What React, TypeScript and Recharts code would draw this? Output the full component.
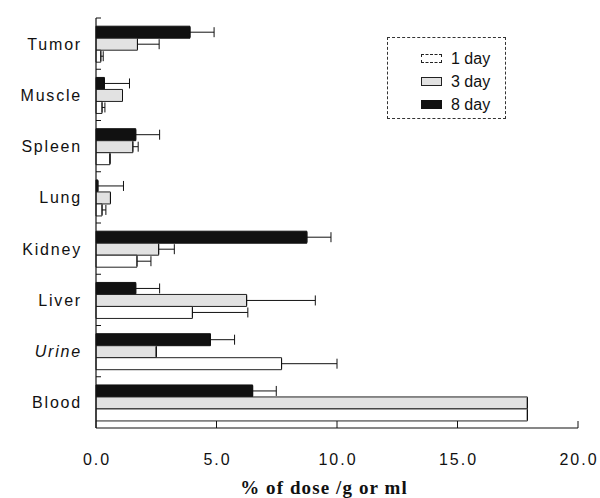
import React from 'react';
import { BarChart, Bar, XAxis, YAxis, ErrorBar } from 'recharts';

const categories = ['Tumor', 'Muscle', 'Spleen', 'Lung', 'Kidney', 'Liver', 'Urine', 'Blood'];
const day1 = [0.2, 0.25, 0.58, 0.25, 1.7, 4.0, 7.7, 17.9];
const day1Err = [0.1, 0.12, 0, 0.16, 0.58, 2.3, 2.3, 0];
const day3 = [1.72, 1.1, 1.53, 0.6, 2.6, 6.25, 2.5, 17.9];
const day3Err = [0.9, 0, 0.22, 0, 0.65, 2.85, 0, 0];
const day8 = [3.9, 0.35, 1.65, 0.08, 8.75, 1.65, 4.75, 6.5];
const day8Err = [1.0, 1.04, 0.99, 1.06, 1.0, 0.99, 1.0, 0.98];
const xTicks = [0, 5, 10, 15, 20];
const seriesNames = ['1 day', '3 day', '8 day'];

const data = categories.map((c, i) => ({
  name: c,
  d1: day1[i],
  d1e: [0, day1Err[i]],
  d3: day3[i],
  d3e: [0, day3Err[i]],
  d8: day8[i],
  d8e: [0, day8Err[i]],
}));

const FONT = '"Liberation Sans", Arial, sans-serif';
const GRAY = '#e2e2e2';

const YTick = (props: any) => {
  const { x, y, payload } = props;
  const half = payload && payload.offset ? payload.offset : 25.6;
  const italic = payload.value === 'Urine';
  return (
    <g>
      <line x1={x + 8} x2={x + 13} y1={y - half} y2={y - half} stroke="#111" strokeWidth={1} />
      <text
        x={x - 6}
        y={y}
        dy={6}
        textAnchor="end"
        fontFamily={FONT}
        fontSize={16}
        letterSpacing={1.8}
        fontStyle={italic ? 'italic' : 'normal'}
        fill="#111"
      >
        {payload.value}
      </text>
    </g>
  );
};

const XTick = (props: any) => {
  const { x, y, payload } = props;
  return (
    <g>
      <line x1={x} x2={x} y1={y - 8} y2={y - 15} stroke="#111" strokeWidth={1} />
      <text x={x + 1} y={y + 29} textAnchor="middle" fontFamily={FONT} fontSize={16} letterSpacing={2} fill="#111">
        {Number(payload.value).toFixed(1)}
      </text>
    </g>
  );
};

const Swatch = ({ kind }: { kind: number }) => {
  const style: React.CSSProperties =
    kind === 2
      ? { background: '#111', border: '1px solid #111' }
      : kind === 1
      ? { background: GRAY, border: '1px solid #222' }
      : { background: '#fff', border: '1px dashed #222' };
  return <div style={{ width: 19, height: 7, ...style }} />;
};

export default function App() {
  return (
    <div style={{ position: 'absolute', left: 0, top: 0, width: 600, height: 498, background: '#fff' }}>
      <BarChart
        width={600}
        height={498}
        data={data}
        layout="vertical"
        margin={{ top: 18, right: 22, bottom: 0, left: 0 }}
        barCategoryGap="16%"
        barGap={0}
      >
        <XAxis
          type="number"
          domain={[0, 20]}
          ticks={xTicks}
          height={70}
          axisLine={{ stroke: '#111', strokeWidth: 1.2 }}
          tickLine={false}
          tick={<XTick />}
          interval={0}
        />
        <YAxis
          type="category"
          dataKey="name"
          width={96}
          axisLine={{ stroke: '#111', strokeWidth: 1.2 }}
          tickLine={false}
          tick={<YTick />}
          interval={0}
        />
        <Bar dataKey="d8" name={seriesNames[2]} fill="#111" stroke="#111" strokeWidth={1} isAnimationActive={false}>
          <ErrorBar dataKey="d8e" direction="x" width={5} stroke="#111" strokeWidth={1} />
        </Bar>
        <Bar dataKey="d3" name={seriesNames[1]} fill={GRAY} stroke="#222" strokeWidth={1} isAnimationActive={false}>
          <ErrorBar dataKey="d3e" direction="x" width={5} stroke="#111" strokeWidth={1} />
        </Bar>
        <Bar dataKey="d1" name={seriesNames[0]} fill="#fff" stroke="#222" strokeWidth={1} isAnimationActive={false}>
          <ErrorBar dataKey="d1e" direction="x" width={5} stroke="#111" strokeWidth={1} />
        </Bar>
      </BarChart>
      <div
        style={{
          position: 'absolute',
          left: 387,
          top: 37,
          width: 119,
          height: 82,
          border: '1px dashed #333',
          boxSizing: 'border-box',
          fontFamily: FONT,
          fontSize: 16,
          color: '#111',
          paddingTop: 9,
          paddingLeft: 33,
        }}
      >
        {seriesNames.map((n, i) => (
          <div key={n} style={{ display: 'flex', alignItems: 'center', height: 23 }}>
            <Swatch kind={i} />
            <span style={{ marginLeft: 9 }}>{n}</span>
          </div>
        ))}
      </div>
      <div
        style={{
          position: 'absolute',
          left: 0,
          width: 648,
          top: 477,
          textAlign: 'center',
          fontFamily: '"Liberation Serif", "Times New Roman", serif',
          fontWeight: 'bold',
          fontSize: 19,
          letterSpacing: 1.1,
          whiteSpace: 'nowrap',
          color: '#111',
        }}
      >
        % of dose /g or ml
      </div>
    </div>
  );
}
